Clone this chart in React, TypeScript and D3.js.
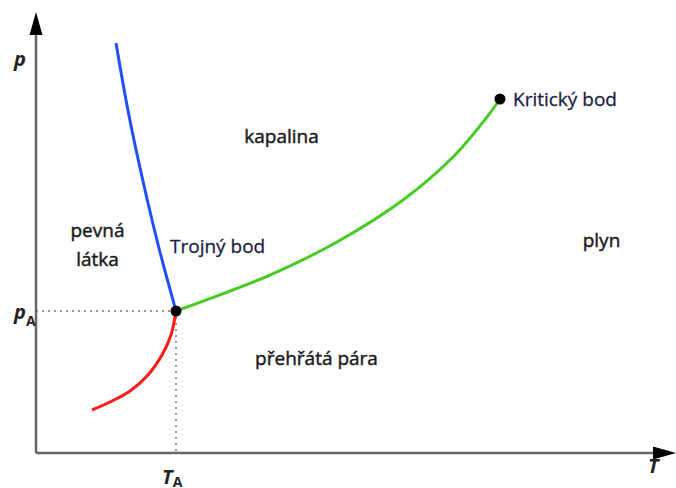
import React from "react";
import * as d3 from "d3";

// Phase diagram data (T, p in arbitrary units)
const sublimation: [number, number][] = [
  [8.75, 9.75], [11.56, 11.56], [14.69, 14.06], [17.5, 17.69], [19.69, 22.22], [21.09, 26.76], [21.875, 32.2],
];
const melting: [number, number][] = [
  [21.875, 32.2], [19.13, 46.94], [16.64, 62.13], [14.42, 77.32], [12.5, 92.97],
];
const vaporization: [number, number][] = [
  [21.875, 32.2], [36.56, 40.36], [47.03, 47.85], [57.34, 57.37], [65.16, 67.12], [70.47, 76.19], [72.5, 80.27],
];
const triplePoint: [number, number] = [21.875, 32.2];
const criticalPoint: [number, number] = [72.5, 80.27];

const W = 676;
const H = 488;

export default function App() {
  const x = d3.scaleLinear().domain([0, 100]).range([36, 676]);
  const y = d3.scaleLinear().domain([0, 100]).range([453, 12]);
  const line = d3
    .line<[number, number]>()
    .x((d) => x(d[0]))
    .y((d) => y(d[1]))
    .curve(d3.curveCatmullRom.alpha(0.5));

  const font = "'Open Sans', 'Noto Sans', sans-serif";
  const tp = [x(triplePoint[0]), y(triplePoint[1])];
  const cp = [x(criticalPoint[0]), y(criticalPoint[1])];
  const x0 = x(0);
  const y0 = y(0);

  return (
    <svg width={W} height={H} style={{ position: "absolute", left: 0, top: 0 }}>
      <rect width={W} height={H} fill="#fff" />
      {/* dotted guides */}
      <line x1={x0} y1={tp[1]} x2={tp[0]} y2={tp[1]} stroke="#777" strokeWidth={1.5} strokeDasharray="2,4" />
      <line x1={tp[0]} y1={tp[1]} x2={tp[0]} y2={y0} stroke="#777" strokeWidth={1.5} strokeDasharray="2,4" />
      {/* axes */}
      <line x1={x0} y1={y0} x2={x0} y2={30} stroke="#666" strokeWidth={2.5} />
      <line x1={x0} y1={y0} x2={660} y2={y0} stroke="#666" strokeWidth={2.5} />
      <path d={`M${x0 - 6.5},35 L${x0},12 L${x0 + 6.5},35 Z`} fill="#000" />
      <path d={`M653,${y0 - 6.5} L676,${y0} L653,${y0 + 6.5} Z`} fill="#000" />
      {/* curves */}
      <path d={line(sublimation) || ""} fill="none" stroke="#ff1a1a" strokeWidth={3} />
      <path d={line(melting) || ""} fill="none" stroke="#1f4fff" strokeWidth={3} />
      <path d={line(vaporization) || ""} fill="none" stroke="#44cc22" strokeWidth={3} />
      <circle cx={tp[0]} cy={tp[1]} r={5.5} fill="#000" />
      <circle cx={cp[0]} cy={cp[1]} r={5.5} fill="#000" />
      {/* region labels */}
      <g fontFamily={font} fontSize={19} fill="#1a1a1a" stroke="#1a1a1a" strokeWidth={0.45}>
        <text x={281.5} y={143} textAnchor="middle">kapalina</text>
        <text x={97.5} y={237} textAnchor="middle">pevná</text>
        <text x={97.5} y={266} textAnchor="middle">látka</text>
        <text x={601.5} y={247} textAnchor="middle">plyn</text>
        <text x={316.5} y={365} textAnchor="middle">přehřátá pára</text>
      </g>
      <g fontFamily={font} fontSize={19} fill="#1c1c44" stroke="#1c1c44" strokeWidth={0.3}>
        <text x={170} y={253}>Trojný bod</text>
        <text x={513} y={106}>Kritický bod</text>
      </g>
      {/* axis labels */}
      <g fontFamily={font} fontSize={20} fontStyle="italic" fontWeight={700} fill="#222">
        <text x={14} y={66}>p</text>
        <text x={14} y={319}>p<tspan fontSize={14} fontStyle="normal" dy={7}>A</tspan></text>
        <text x={162} y={484}>T<tspan fontSize={14} fontStyle="normal" dy={3}>A</tspan></text>
        <text x={648} y={473}>T</text>
      </g>
    </svg>
  );
}
